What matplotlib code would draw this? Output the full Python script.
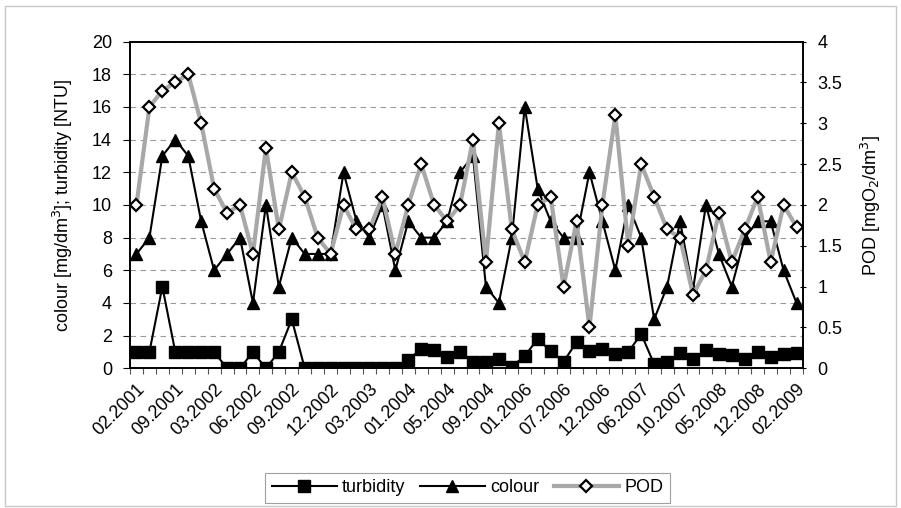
import matplotlib
matplotlib.use("Agg")
import matplotlib.pyplot as plt
from matplotlib.patches import Rectangle

plt.rcParams['font.family'] = ['Liberation Sans', 'DejaVu Sans']

tick_labels = ["02.2001", "09.2001", "03.2002", "06.2002", "09.2002", "12.2002",
               "03.2003", "01.2004", "05.2004", "09.2004", "01.2006", "07.2006",
               "12.2006", "06.2007", "10.2007", "05.2008", "12.2008", "02.2009"]

turbidity = [1, 1, 5, 1, 1, 1, 1, 0, 0, 1, 0, 1, 3, 0, 0, 0, 0, 0, 0, 0, 0,
             0.5, 1.2, 1.1, 0.7, 1.0, 0.4, 0.4, 0.55, 0.1, 0.75, 1.8, 1.05, 0.4,
             1.6, 1.05, 1.2, 0.9, 1.0, 2.1, 0.25, 0.4, 0.95, 0.55, 1.1, 0.9, 0.8,
             0.55, 1.0, 0.7, 0.9, 0.95]

colour = [7, 8, 13, 14, 13, 9, 6, 7, 8, 4, 10, 5, 8, 7, 7, 7, 12, 9, 8, 10,
          6, 9, 8, 8, 9, 12, 13, 5, 4, 8, 16, 11, 9, 8, 8, 12, 9, 6, 10, 8,
          3, 5, 9, 4.8, 10, 7, 5, 8, 9, 9, 6, 4]

pod = [2.0, 3.2, 3.4, 3.5, 3.6, 3.0, 2.2, 1.9, 2.0, 1.4, 2.7, 1.7, 2.4, 2.1,
       1.6, 1.4, 2.0, 1.7, 1.7, 2.1, 1.4, 2.0, 2.5, 2.0, 1.8, 2.0, 2.8, 1.3,
       3.0, 1.7, 1.3, 2.0, 2.1, 1.0, 1.8, 0.5, 2.0, 3.1, 1.5, 2.5, 2.1, 1.7,
       1.6, 0.9, 1.2, 1.9, 1.3, 1.7, 2.1, 1.3, 2.0, 1.73]

n = len(colour)
x = list(range(n))

fig = plt.figure(figsize=(9.01, 5.08), dpi=100)
fig.patches.append(Rectangle((5 / 901, 2 / 508), 891 / 901, 500 / 508,
                             transform=fig.transFigure, fill=False,
                             edgecolor='#c8c8c8', linewidth=1.0))

ax = fig.add_axes([130 / 901, 1 - 368.3 / 508, 673 / 901, (368.3 - 41.6) / 508])
ax2 = ax.twinx()

fs = 13
h1, = ax.plot(x, turbidity, color='black', linewidth=1.5, marker='s',
              markersize=8, markerfacecolor='black', markeredgecolor='black',
              label='turbidity', zorder=3)
h2, = ax.plot(x, colour, color='black', linewidth=1.5, marker='^',
              markersize=9, markerfacecolor='black', markeredgecolor='black',
              label='colour', zorder=4)
h3, = ax2.plot(x, pod, color='#a8a8a8', linewidth=3, marker='D',
               markersize=6.5, markerfacecolor='white', markeredgecolor='black',
               markeredgewidth=1.6, label='POD', zorder=5)

ax.set_xlim(-0.5, n - 0.5)
ax.set_ylim(0, 20)
ax2.set_ylim(0, 4)

ax.set_yticks(range(0, 21, 2))
ax2.set_yticks([0, 0.5, 1, 1.5, 2, 2.5, 3, 3.5, 4])
ax2.set_yticklabels(['0', '0.5', '1', '1.5', '2', '2.5', '3', '3.5', '4'])

ax.set_xticks(list(range(0, n, 3)))
ax.set_xticklabels(tick_labels, rotation=45, ha='right', va='top',
                   rotation_mode='anchor', fontsize=fs)
ax.set_xticks([i - 0.5 for i in range(n + 1)], minor=True)
ax.tick_params(axis='x', which='major', length=0, pad=9)
ax.tick_params(axis='x', which='minor', length=4, direction='out', width=0.8,
               color='#555555')

ax.tick_params(axis='y', labelsize=fs, length=5, width=0.8, direction='out', pad=8)
ax2.tick_params(axis='y', labelsize=fs, length=5, width=0.8, direction='inout', pad=8)

ax.yaxis.grid(True, linestyle=(0, (5, 4)), color='#9a9a9a', linewidth=0.8)
ax.set_axisbelow(True)

for sp in ax.spines.values():
    sp.set_linewidth(1.2)
for sp in ax2.spines.values():
    sp.set_linewidth(1.2)

ax.set_ylabel('colour [mg/dm$^3$]; turbidity [NTU]', fontsize=fs, labelpad=12)
ax2.set_ylabel('POD [mgO$_2$/dm$^3$]', fontsize=fs, labelpad=12)

leg = fig.legend(handles=[h1, h2, h3], loc='center', ncol=3,
                 bbox_to_anchor=(467.5 / 901, 1 - 488 / 508), fontsize=fs,
                 frameon=True, fancybox=False, edgecolor='#888888',
                 handlelength=3.6, columnspacing=0.8, handletextpad=0.3,
                 borderpad=0.35)
leg.get_frame().set_linewidth(0.8)

fig.savefig('out.png', dpi=100)
